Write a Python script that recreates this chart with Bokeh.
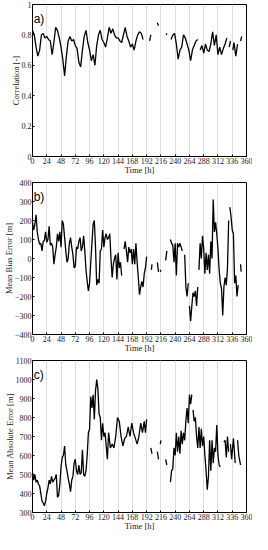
import math
from bokeh.plotting import figure
from bokeh.layouts import column
from bokeh.models import FixedTicker, Range1d, Label, LinearAxis
from bokeh.embed import file_html
from bokeh.resources import INLINE

NaN = float("nan")

# ---------------- data ----------------
x_ticks = [0, 24, 48, 72, 96, 120, 144, 168, 192, 216, 240, 264, 288, 312, 336, 360]
x_title = "Time [h]"

hours_a = [0, 3, 6, 9, 12, 15, 18, 21, 24, 27, 30, 33, 36, 39, 42, 45, 48, 51, 54, 57,
           60, 63, 66, 69, 72, 75, 78, 81, 84, 87, 90, 93, 96, 99, 102, 105, 108, 111,
           114, 117, 120, 123, 126, 129, 132, 135, 138, 141, 144, 147, 150, 153, 156,
           159, 162, 165, 168, 171, 174, 177, 180, 183, 186, 189,
           197, 199, 202, 210, 212, 214, 225, 226, 228,
           233, 236, 239, 242, 245, 248, 251, 254, 257, 260, 263, 266, 269, 272, 275,
           278, 280, 282, 285, 288, 291, 294, 297, 300, 303, 306, 309, 312, 315, 318,
           321, 324, 327, 329, 331, 333, 335, 337, 339, 342, 345, 347, 350, 352]
corr = [0.83, 0.80, 0.72, 0.66, 0.70, 0.80, 0.81, 0.78, 0.79, 0.77, 0.76, 0.67, 0.75,
        0.85, 0.83, 0.78, 0.72, 0.64, 0.53, 0.66, 0.76, 0.79, 0.76, 0.77, 0.73, 0.71,
        0.62, 0.59, 0.70, 0.79, 0.83, 0.75, 0.70, 0.63, 0.67, 0.60, 0.73, 0.80, 0.83,
        0.77, 0.75, 0.72, 0.78, 0.85, 0.81, 0.84, 0.80, 0.78, 0.78, 0.76, 0.75, 0.80,
        0.85, 0.79, 0.76, 0.72, 0.74, 0.70, 0.76, 0.80, 0.82, 0.81, 0.77, NaN,
        0.76, 0.80, NaN, 0.88, 0.86, NaN, 0.80, 0.81, NaN,
        0.77, 0.80, 0.81, 0.74, 0.64, 0.70, 0.72, 0.80, 0.78, 0.74, 0.70, 0.63, 0.70,
        0.73, 0.76, 0.77, NaN, 0.70, 0.73, 0.68, 0.74, 0.70, 0.69, 0.74, 0.82, 0.73,
        0.80, 0.67, 0.72, 0.67, 0.71, 0.74, 0.78, NaN, 0.72, 0.76, NaN, 0.70, 0.75,
        0.66, 0.74, NaN, 0.76, 0.79]

hours_b = [0, 2, 4, 6, 8, 10, 12, 14, 16, 18, 20, 22, 24, 26, 28, 30, 32, 34, 36, 38,
           40, 42, 44, 46, 48, 50, 52, 54, 56, 58, 60, 62, 64, 66, 68, 70, 72, 74, 76,
           78, 80, 82, 84, 86, 88, 90, 92, 94, 96, 98, 100, 102, 104, 106, 108, 110,
           112, 114, 116, 118, 120, 122, 124, 126, 128, 130, 132, 134, 136, 138, 140,
           142, 144, 146, 148, 150, 151, 154, 156, 158, 160, 162, 164, 166, 168, 170,
           172, 174, 176, 178, 180, 182, 184, 186, 188, 190, 192, 193,
           200, 201, 203, 210, 212, 213, 215, 216, 218, 224, 226, 228,
           232, 234, 236, 238, 240, 242, 244, 246, 248, 250, 252, 253, 256, 258, 260,
           262, 263, 264, 266, 268, 270, 272, 274, 276, 278, 279, 280, 282, 284, 286,
           288, 290, 292, 294, 296, 298, 300, 302, 304, 306, 308, 310, 312, 314, 316,
           318, 320, 322, 324, 326, 328, 330, 331, 332, 334, 336, 338, 340, 342, 344,
           346, 347, 350, 351]
mbe = [190, 150, 180, 230, 140, 100, 75, 80, 40, 90, 95, 140, 85, 100, 170, 70, 80, 60,
       -30, 20, 60, 130, 90, 140, 60, 200, 180, 110, 40, -20, 0, 80, 110, 60, 20, -50,
       -40, 60, 50, 90, 110, 40, 60, 120, 40, -60, -120, -170, -130, -20, 80, 180, 200,
       60, -140, -110, -130, 40, 50, 150, 60, 110, 130, 100, 110, 130, 0, -100, -30, 0,
       20, -110, 30, -50, -20, -90, NaN, 50, 90, 40, -20, 60, 30, 50, -30, 50, -30, 80,
       -20, -100, -190, -150, -120, -150, -80, -50, 10, NaN,
       -60, -30, NaN, -20, -70, NaN, -60, -70, NaN, -10, 40, NaN,
       100, 80, 70, -20, 80, -90, 80, 60, 80, 60, 40, NaN, 20, -150, -200, -130, NaN,
       -250, -330, -250, -180, -200, -170, -250, -150, NaN, -60, 80, 0, 120, 50, -80,
       30, -60, 20, -80, 90, 0, 310, 140, 190, 130, 50, -60, -130, -160, -300, -150,
       -100, -140, -50, 200, NaN, 270, 220, 150, 130, -130, -90, -200, -140, NaN, -30,
       -70]

hours_c = [0, 2, 4, 6, 8, 10, 12, 14, 16, 18, 20, 22, 24, 26, 28, 30, 32, 34, 36, 38,
           40, 42, 44, 46, 48, 50, 52, 54, 56, 58, 60, 62, 64, 66, 68, 70, 72, 74, 76,
           78, 80, 82, 84, 86, 88, 90, 92, 94, 96, 98, 100, 102, 104, 106, 108, 110,
           112, 114, 116, 118, 120, 122, 124, 126, 128, 131, 134, 137, 140, 143, 146,
           149, 152, 155, 158, 161, 164, 167, 170, 173, 176, 179, 182, 185, 188, 190,
           192, 193, 199, 201, 203, 210, 212, 213, 215, 216, 218, 224, 226, 228,
           232, 234, 236, 238, 240, 242, 244, 246, 248, 250, 252, 254, 256, 258, 260,
           262, 264, 266, 268, 269, 270, 272, 274, 276, 278, 280, 282, 284, 286, 288,
           290, 292, 294, 296, 298, 300, 302, 304, 306, 308, 310, 312, 314, 316, 318,
           322, 324, 326, 328, 330, 331, 333, 335, 338, 341, 342, 345, 347, 350]
mae = [510, 470, 500, 460, 470, 450, 440, 400, 360, 350, 335, 360, 400, 430, 470, 450,
       490, 460, 470, 480, 500, 380, 390, 450, 540, 590, 600, 650, 550, 520, 480, 450,
       410, 470, 490, 560, 580, 520, 500, 550, 500, 510, 630, 500, 490, 520, 600, 720,
       740, 910, 850, 920, 790, 940, 1000, 950, 820, 800, 680, 770, 700, 720, 650, 580,
       720, 640, 660, 640, 700, 800, 780, 700, 650, 690, 700, 750, 700, 770, 720, 690,
       660, 700, 770, 720, 780, 720, 790, NaN, 640, 610, NaN, 620, 580, NaN, 660, 680,
       NaN, 580, 550, NaN,
       460, 520, 530, 640, 600, 720, 620, 700, 610, 730, 660, 720, 680, 780, 850, 770,
       920, 870, 920, NaN, 840, 780, 800, 700, 640, 750, 640, 740, 650, 700, 600, 520,
       420, 490, 680, 520, 680, 560, 640, 620, 760, 600, 550, 540, NaN, 670, 680, 590,
       700, 620, NaN, 660, 580, 690, 560, NaN, 680, 600, 550]

yticks_a = [0, 0.2, 0.4, 0.6, 0.8, 1]
ylabels_a = ["0", "0.2", "0.4", "0.6", "0.8", "1"]
yticks_b = [-400, -300, -200, -100, 0, 100, 200, 300, 400]
yticks_c = [300, 400, 500, 600, 700, 800, 900, 1000, 1100]

SERIF = "Liberation Serif"
FRAME_H = 154


def style_axis(ax):
    ax.major_label_text_font = SERIF
    ax.major_label_text_font_size = "8px"
    ax.major_label_text_color = "#222222"
    ax.axis_label_text_font = SERIF
    ax.axis_label_text_font_size = "8.5px"
    ax.axis_label_text_font_style = "normal"
    ax.axis_label_text_color = "#222222"
    ax.major_tick_out = 0
    ax.major_tick_in = 2
    ax.minor_tick_out = 0
    ax.minor_tick_in = 0
    ax.axis_line_color = "black"


def panel(h, top, hours, vals, yr, yt, ylab_over, ylabel, tag):
    span = yr[1] - yr[0]
    p = figure(width=252, height=h, output_backend="svg", toolbar_location=None,
               x_range=Range1d(0, 360), y_range=Range1d(*yr),
               min_border_left=24, min_border_right=6, min_border_top=top,
               min_border_bottom=0)
    p.line(hours, vals, line_color="black", line_width=1.3)
    p.xaxis.ticker = FixedTicker(ticks=x_ticks)
    p.yaxis.ticker = FixedTicker(ticks=yt)
    if ylab_over:
        p.yaxis.major_label_overrides = ylab_over
    style_axis(p.xaxis[0])
    style_axis(p.yaxis[0])
    p.xaxis.major_label_standoff = 1
    p.yaxis.major_label_standoff = 1
    p.yaxis.axis_label_standoff = -2
    p.yaxis.axis_label = ylabel
    # second axis below carrying the "Time [h]" title as its only label
    tax = LinearAxis(ticker=FixedTicker(ticks=[180]),
                     major_label_overrides={180: x_title})
    style_axis(tax)
    tax.major_label_text_font_size = "8.5px"
    tax.major_tick_in = 0
    tax.axis_line_color = None
    tax.major_label_standoff = -2
    p.add_layout(tax, "below")
    p.xgrid.grid_line_color = "#dedede"
    p.xgrid.grid_line_width = 1
    p.ygrid.grid_line_color = None
    p.outline_line_color = "black"
    p.outline_line_width = 1
    p.background_fill_color = "white"
    p.border_fill_color = "white"
    p.add_layout(Label(x=2, y=yr[1] - span * 8 / FRAME_H, text=tag,
                       text_font="Liberation Sans", text_font_size="12px",
                       text_baseline="top", text_color="black"))
    return p


pa = panel(177, 4, hours_a, corr, (0, 1), yticks_a,
           {t: l for t, l in zip(yticks_a, ylabels_a)}, "Correlation [-]", "a)")
pb = panel(178, 5, hours_b, mbe, (-400, 400), yticks_b, None,
           "Mean Bias Error [m]", "b)")
pc = panel(178, 5, hours_c, mae, (300, 1100), yticks_c, None,
           "Mean Absolute Error [m]", "c)")

layout = column(pa, pb, pc, spacing=0)
open("out.html", "w").write(file_html(layout, INLINE))
